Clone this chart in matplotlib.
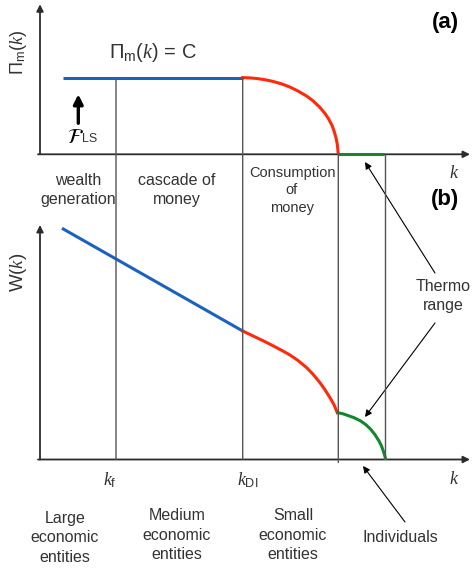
import numpy as np
import matplotlib
matplotlib.use('Agg')
import matplotlib.pyplot as plt
from matplotlib.patches import ConnectionPatch

plt.rcParams['font.family'] = ['Liberation Sans', 'DejaVu Sans']
plt.rcParams['mathtext.fontset'] = 'custom'
plt.rcParams['mathtext.rm'] = 'Liberation Sans'
plt.rcParams['mathtext.sf'] = 'Liberation Sans'
plt.rcParams['mathtext.it'] = 'Liberation Serif:italic'

# characteristic k values (arbitrary units)
k_start = 0.233
k_f = 0.76
k_DI = 2.027
k_c = 2.983
k_max = 3.455

# (a) transfer function Pi_m(k)
pi_blue_k = [k_start, k_DI]
pi_blue_v = [0.767, 0.767]
pi_red_k = [2.027, 2.10, 2.167, 2.25, 2.333, 2.42, 2.50, 2.58, 2.667, 2.73,
            2.80, 2.85, 2.883, 2.92, 2.94, 2.96, 2.973, 2.983]
pi_red_v = [0.767, 0.764, 0.758, 0.746, 0.728, 0.703, 0.672, 0.633, 0.582, 0.535,
            0.468, 0.408, 0.36, 0.29, 0.235, 0.165, 0.10, 0.0]
pi_green_k = [k_c, 3.44]
pi_green_v = [0.0, 0.0]

# (b) wealth W(k)
w_blue_k = [k_start, k_DI]
w_blue_v = [2.305, 1.285]
w_red_k = [2.027, 2.10, 2.167, 2.25, 2.333, 2.42, 2.50, 2.58, 2.667, 2.73,
           2.80, 2.85, 2.90, 2.94, 2.973]
w_red_v = [1.285, 1.250, 1.218, 1.178, 1.136, 1.090, 1.045, 0.990, 0.918, 0.853,
           0.768, 0.697, 0.618, 0.548, 0.468]
w_green_k = [2.98, 3.03, 3.073, 3.14, 3.207, 3.26, 3.307, 3.35, 3.39, 3.415, 3.433, 3.447, 3.457]
w_green_v = [0.468, 0.457, 0.442, 0.418, 0.385, 0.347, 0.302, 0.248, 0.185, 0.135, 0.085, 0.04, 0.0]

region_labels_a = ['wealth\ngeneration', 'cascade of\nmoney', 'Consumption\nof\nmoney']
region_labels_b = ['Large\neconomic\nentities', 'Medium\neconomic\nentities',
                   'Small\neconomic\nentities', 'Individuals']

BLUE = '#1a62c0'
RED = '#ff2a0a'
GREEN = '#13872c'
TXT = '#333333'
AX = '#2b2b2b'
VL = '#555555'

fig = plt.figure(figsize=(4.73, 5.69), dpi=100)
ax_a = fig.add_axes([40/473, (569-154.3)/569, 430/473, 150/569])
ax_b = fig.add_axes([40/473, (569-459.5)/569, 430/473, 234.5/569])
ax_a.set_xlim(0, 4.3); ax_a.set_ylim(0, 1.5)
ax_b.set_xlim(0, 4.3); ax_b.set_ylim(0, 2.345)
for ax in (ax_a, ax_b):
    ax.axis('off')
    ylim = ax.get_ylim()[1]
    ax.annotate('', xy=(4.3, 0), xytext=(-0.02, 0),
                arrowprops=dict(arrowstyle='-|>', color=AX, lw=1.3, mutation_scale=10,
                                shrinkA=0, shrinkB=0), annotation_clip=False)
    ax.annotate('', xy=(0, ylim), xytext=(0, 0),
                arrowprops=dict(arrowstyle='-|>', color=AX, lw=1.3, mutation_scale=10,
                                shrinkA=0, shrinkB=0), annotation_clip=False)

# vertical separators crossing both panels
for k, ya, yb in [(k_f, 0.745, 0), (k_DI, 0.767, 0), (k_c, 0, -0.03), (k_max, 0, 0)]:
    con = ConnectionPatch(xyA=(k, ya), coordsA=ax_a.transData,
                          xyB=(k, yb), coordsB=ax_b.transData,
                          color=VL, lw=1.0, zorder=1)
    fig.add_artist(con)

lw = 2.2
ax_a.plot(pi_blue_k, pi_blue_v, color=BLUE, lw=lw, solid_capstyle='butt', zorder=3)
ax_a.plot(pi_red_k, pi_red_v, color=RED, lw=lw, zorder=3, solid_joinstyle='round')
ax_a.plot(pi_green_k, pi_green_v, color=GREEN, lw=lw, solid_capstyle='butt', zorder=3, clip_on=False)
ax_b.plot(w_blue_k, w_blue_v, color=BLUE, lw=lw, zorder=3)
ax_b.plot(w_red_k, w_red_v, color=RED, lw=lw, zorder=3, solid_joinstyle='round')
ax_b.plot(w_green_k, w_green_v, color=GREEN, lw=lw, zorder=3, solid_joinstyle='round')

# panel (a) text
ax_a.text(4.05, 1.32, '(a)', fontsize=16, fontweight='bold', ha='center', va='center', color='black')
ax_a.text(1.13, 1.02, r'$\Pi_{\mathrm{m}}(k)$ = C', fontsize=14.5, ha='center', va='center', color=TXT)
ax_a.text(-0.22, 1.02, r'$\Pi_{\mathrm{m}}(k)$', fontsize=13, rotation=90,
          ha='center', va='center', color=TXT)
ax_a.annotate('', xy=(0.383, 0.60), xytext=(0.383, 0.31),
              arrowprops=dict(arrowstyle='-|>', color='black', lw=2.4, mutation_scale=14,
                              shrinkA=0, shrinkB=0))
ax_a.text(0.35, 0.17, r'$\mathcal{F}$', fontsize=15, math_fontfamily='stix',
          ha='center', va='center', color='black')
ax_a.text(0.42, 0.155, 'LS', fontsize=9, ha='left', va='center', color=TXT)
for x, lab, fs, ls in zip([0.38, 1.37, 2.52], region_labels_a, [11.5, 11.5, 10.5], [1.35, 1.35, 1.3]):
    ax_a.text(x, -0.36, lab, fontsize=fs, ha='center', va='center', color=TXT, linespacing=ls)
ax_a.text(4.13, -0.19, 'k', fontsize=13, family='Liberation Serif', style='italic',
          ha='center', va='center', color=TXT)
ax_a.text(4.05, -0.457, '(b)', fontsize=16, fontweight='bold', ha='center', va='center', color='black')

# panel (b) text
ax_b.text(-0.22, 1.875, r'W$(k)$', fontsize=13.5, rotation=90, ha='center', va='center', color=TXT)
ax_b.text(4.03, 1.635, 'Thermo\nrange', fontsize=11.5, ha='center', va='center', color=TXT,
          linespacing=1.3)
arrow_kw = dict(arrowstyle='-|>', color='black', lw=0.8, mutation_scale=10, shrinkA=0, shrinkB=0)
ax_b.annotate('', xy=(3.25, 2.975), xytext=(3.95, 1.865), arrowprops=arrow_kw, annotation_clip=False)
ax_b.annotate('', xy=(3.25, 0.425), xytext=(3.95, 1.365), arrowprops=arrow_kw, annotation_clip=False)
ax_b.annotate('', xy=(3.23, -0.065), xytext=(3.65, -0.625), arrowprops=arrow_kw, annotation_clip=False)

ax_b.text(0.70, -0.205, r'$k_{\mathrm{f}}$', fontsize=13, ha='center', va='center', color=TXT)
ax_b.text(2.08, -0.205, r'$k_{\mathrm{DI}}$', fontsize=13, ha='center', va='center', color=TXT)
ax_b.text(4.13, -0.205, 'k', fontsize=13, family='Liberation Serif', style='italic',
          ha='center', va='center', color=TXT)
for x, y, lab in zip([0.25, 1.37, 2.53, 3.6], [-0.785, -0.755, -0.755, -0.775], region_labels_b):
    ax_b.text(x, y, lab, fontsize=11.5, ha='center', va='center', color=TXT, linespacing=1.35)

fig.savefig('out.png', dpi=100)
